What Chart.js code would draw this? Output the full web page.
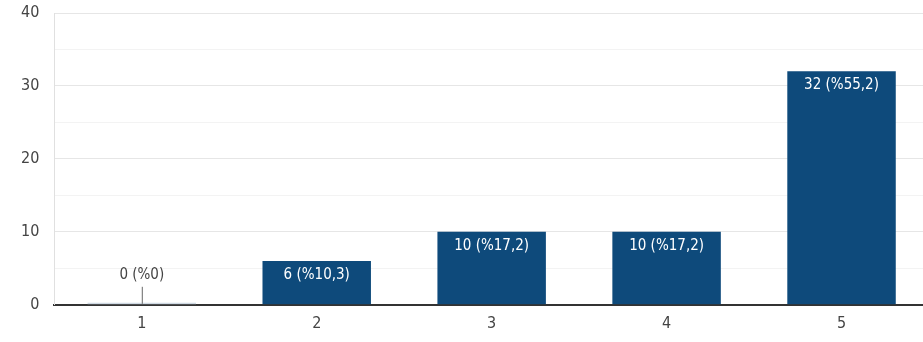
<!DOCTYPE html>
<html>
<head>
<meta charset="utf-8">
<script src="https://cdn.jsdelivr.net/npm/chart.js@4/dist/chart.umd.min.js"></script>
<style>
  html, body { margin: 0; padding: 0; background: #fff; overflow: hidden; }
  #wrap { width: 935px; height: 342px; }
</style>
</head>
<body>
<div id="wrap"><canvas id="answersChart" width="935" height="342"></canvas></div>
<script>
// chart data
const categories = ["1", "2", "3", "4", "5"];
const counts = [0, 6, 10, 10, 32];
const yTicks = [0, 10, 20, 30, 40];

const FONT = "'Liberation Sans Narrow', 'DejaVu Sans Condensed', 'Liberation Sans', Arial, sans-serif";
const BAR_COLOR = "#0e4a7b";

let total = counts.reduce((a, b) => a + b, 0);

// e.g. "6 (%10,3)"
function barLabel(v) {
    let pct = total ? Math.round(v / total * 1000) / 10 : 0;
    let pctText = String(pct).replace(".", ",");
    return v + " (%" + pctText + ")";
}

// draws the value labels on top of the bars
const valueLabels = {
    id: "valueLabels",
    afterDatasetsDraw(chart) {
        let ctx = chart.ctx;
        let meta = chart.getDatasetMeta(0);
        let yScale = chart.scales.y;
        ctx.save();
        ctx.font = "15px " + FONT;
        ctx.textAlign = "center";
        ctx.textBaseline = "middle";
        meta.data.forEach((bar, i) => {
            let v = counts[i];
            if (v > 0) {
                ctx.fillStyle = "#ffffff";
                ctx.fillText(barLabel(v), bar.x, bar.y + 14);
            } else {
                let base = yScale.getPixelForValue(0);
                ctx.strokeStyle = "#666";
                ctx.lineWidth = 1;
                ctx.beginPath();
                ctx.moveTo(bar.x + 0.5, base - 18);
                ctx.lineTo(bar.x + 0.5, base - 1);
                ctx.stroke();
                ctx.fillStyle = "#444";
                ctx.fillText(barLabel(v), bar.x, base - 30);
            }
        });
        ctx.restore();
    }
};

new Chart(document.getElementById("answersChart").getContext("2d"), {
    type: "bar",
    data: {
        labels: categories,
        datasets: [{
            data: counts,
            backgroundColor: counts.map(v => v === 0 ? "#cfd9e3" : BAR_COLOR),
            borderWidth: 0,
            minBarLength: 2,
            categoryPercentage: 1,
            barPercentage: 0.62
        }]
    },
    options: {
        responsive: false,
        animation: false,
        events: [],
        layout: { padding: { left: 21, right: 6, top: 13, bottom: 0 } },
        plugins: {
            legend: { display: false },
            tooltip: { enabled: false }
        },
        scales: {
            x: {
                grid: { display: false, drawTicks: false },
                border: { display: true, color: "#333", width: 2 },
                ticks: {
                    color: "#444",
                    font: { family: FONT, size: 16 },
                    padding: 9
                }
            },
            y: {
                min: yTicks[0],
                max: yTicks[yTicks.length - 1],
                ticks: {
                    stepSize: 5,
                    color: "#444",
                    font: { family: FONT, size: 16 },
                    padding: 0,
                    callback: v => yTicks.includes(v) ? v : ""
                },
                grid: {
                    drawTicks: true,
                    tickLength: 15,
                    tickColor: "rgba(0,0,0,0)",
                    color: c => yTicks.includes(c.tick.value) ? "#e6e6e6" : "#f3f3f3",
                    lineWidth: 1
                },
                border: { display: true, color: "#e0e0e0", width: 1 }
            }
        }
    },
    plugins: [valueLabels]
});
</script>
</body>
</html>
